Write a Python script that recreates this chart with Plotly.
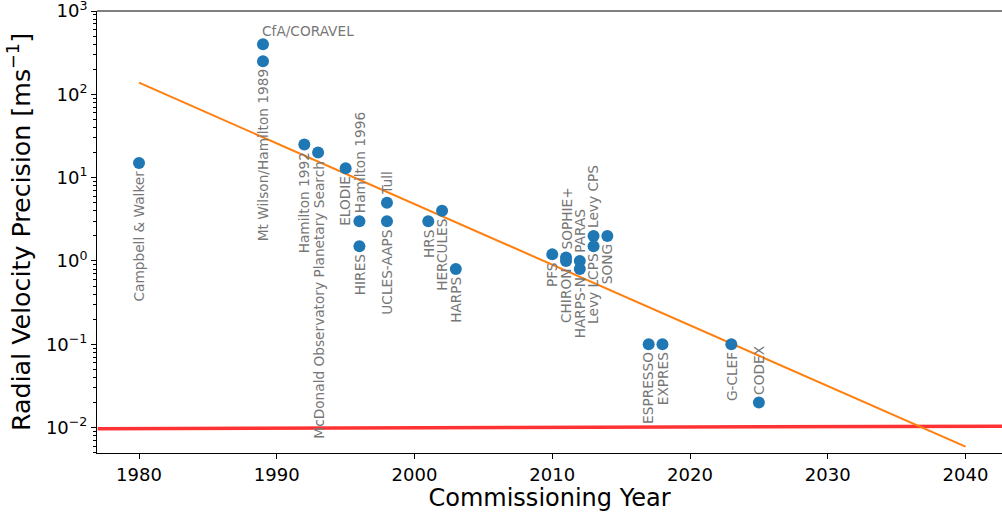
import math
import plotly.graph_objects as go

# ---- data ----
names = ["Campbell & Walker", "CfA/CORAVEL", "Mt Wilson/Hamilton 1989", "Hamilton 1992",
         "McDonald Observatory Planetary Search", "ELODIE", "Hamilton 1996", "HIRES",
         "Tull", "UCLES-AAPS", "HRS", "HERCULES", "HARPS", "PFS", "SOPHIE+", "CHIRON",
         "PARAS", "HARPS-N", "Levy CPS", "Levy LCPS", "SONG", "ESPRESSO", "EXPRES",
         "G-CLEF", "CODEX"]
years = [1980, 1989, 1989, 1992, 1993, 1995, 1996, 1996, 1998, 1998, 2001, 2002, 2003,
         2010, 2011, 2011, 2012, 2012, 2013, 2013, 2014, 2017, 2018, 2023, 2025]
precision = [15, 400, 250, 25, 20, 13, 3, 1.5, 5, 3, 3, 4, 0.8,
             1.2, 1.1, 1.0, 1.0, 0.8, 2, 1.5, 2, 0.1, 0.1, 0.1, 0.02]
label_side = ["below", "horizontal", "below", "below", "below", "below", "above", "below",
              "above", "below", "below", "below", "below", "below", "above", "below",
              "above", "below", "above", "below", "below", "below", "below", "below", "above"]

trend_years = [1980, 2040]
trend_values = [138, 0.0059]

limit_years = [1977, 2043]
limit_values = [0.0097, 0.0104]

y_tickvals = [0.01, 0.1, 1, 10, 100, 1000]
y_ticktext = ["10<sup>−2</sup>", "10<sup>−1</sup>", "10<sup>0</sup>",
              "10<sup>1</sup>", "10<sup>2</sup>", "10<sup>3</sup>"]
x_tickvals = [1980, 1990, 2000, 2010, 2020, 2030, 2040]

fig = go.Figure()
fig.add_trace(go.Scatter(x=limit_years, y=limit_values, mode="lines",
                         line=dict(color="rgba(255,0,0,0.8)", width=3.5),
                         hoverinfo="skip", showlegend=False))
fig.add_trace(go.Scatter(x=trend_years, y=trend_values, mode="lines",
                         line=dict(color="#ff7f0e", width=2),
                         hoverinfo="skip", showlegend=False))
fig.add_trace(go.Scatter(x=years, y=precision, mode="markers",
                         marker=dict(color="#1f77b4", size=12),
                         text=names, showlegend=False))

label_font = dict(family="DejaVu Sans", size=13.7, color="#777777")
for n, yr, v, side in zip(names, years, precision, label_side):
    ly = math.log10(v)  # annotation coords on a log axis are in log10 units
    if side == "horizontal":
        fig.add_annotation(x=yr, y=ly, text=n, showarrow=False, textangle=0,
                           xanchor="left", yanchor="bottom", xshift=-3, yshift=3,
                           font=label_font)
    elif side == "above":
        fig.add_annotation(x=yr, y=ly, text=n, showarrow=False, textangle=-90,
                           xanchor="center", yanchor="bottom", yshift=6,
                           font=label_font)
    else:
        fig.add_annotation(x=yr, y=ly, text=n, showarrow=False, textangle=-90,
                           xanchor="center", yanchor="top", yshift=-6,
                           font=label_font)

axis_font = dict(family="DejaVu Sans", size=18, color="black")
fig.update_layout(
    width=1002, height=512,
    margin=dict(l=97, r=0, t=11, b=59),
    paper_bgcolor="white", plot_bgcolor="white",
    font=dict(family="DejaVu Sans", color="black"),
    xaxis=dict(range=[1976.95, 2042.65], tickvals=x_tickvals, ticks="outside",
               ticklen=5, tickwidth=1, tickcolor="black", showgrid=False, zeroline=False,
               showline=True, linecolor="black", linewidth=1, mirror=False,
               tickfont=axis_font, automargin=False, ticklabeloverflow="allow",
               title=dict(text="Commissioning Year", font=dict(family="DejaVu Sans", size=24),
                          standoff=2)),
    yaxis=dict(type="log", range=[-2.305, 3.0005], tickvals=y_tickvals, ticktext=y_ticktext,
               ticks="outside", ticklen=5, tickwidth=1, tickcolor="black",
               showgrid=False, zeroline=False, showline=True, linecolor="black",
               linewidth=1, mirror=False, tickfont=axis_font, automargin=False,
               ticklabeloverflow="allow",
               minor=dict(ticks="outside", ticklen=3, tickcolor="black", dtick="D1",
                          showgrid=False),
               title=dict(text="Radial Velocity Precision [ms<sup>−1</sup>]",
                          font=dict(family="DejaVu Sans", size=25.3), standoff=8)),
)
# top spine
fig.add_shape(type="line", xref="paper", yref="paper", x0=0, x1=1, y0=1, y1=1,
              line=dict(color="black", width=1))

fig.write_html("out.html", config={"displayModeBar": False},
               post_script="document.body.style.margin='0';document.body.style.padding='0';")
